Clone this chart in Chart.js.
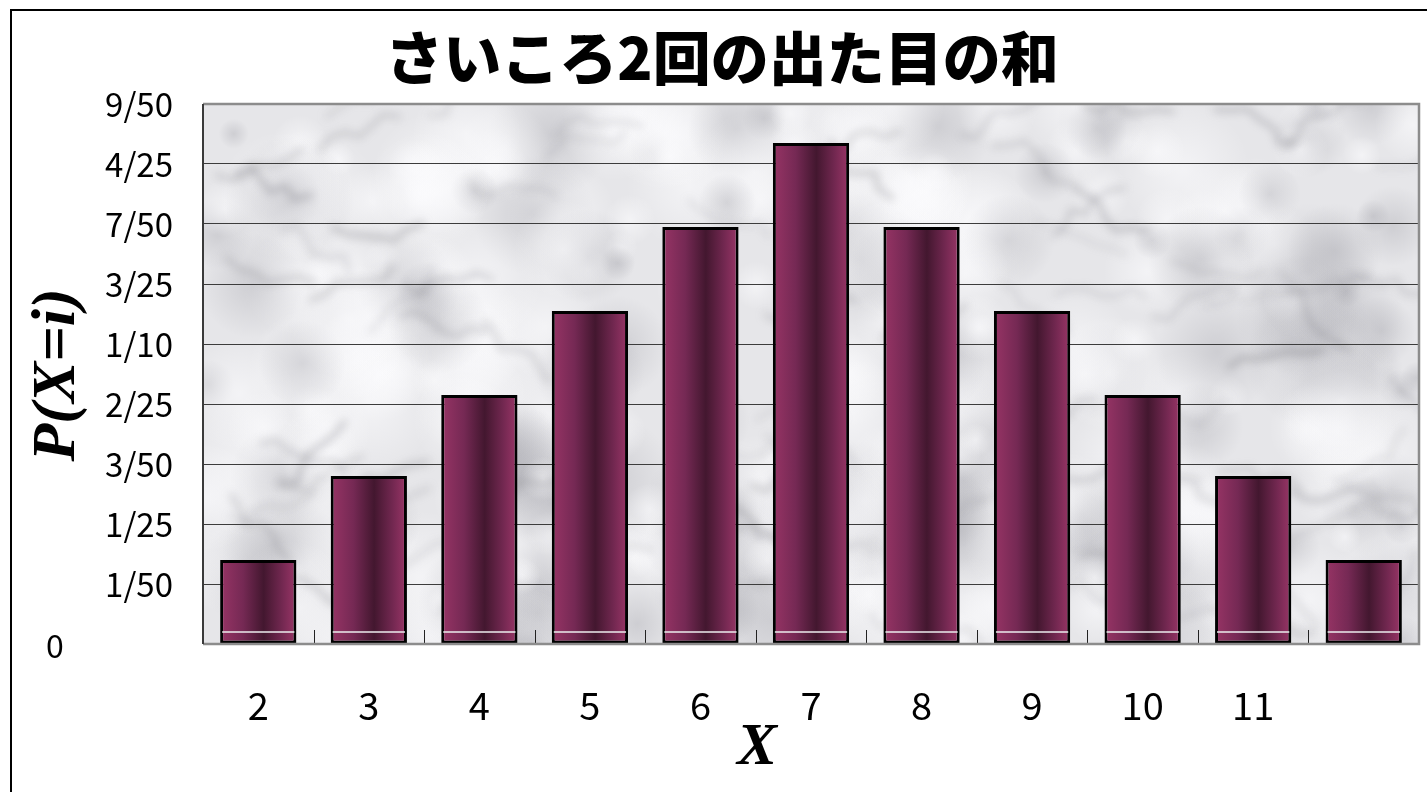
<!DOCTYPE html>
<html>
<head>
<meta charset="utf-8">
<script src="https://cdn.jsdelivr.net/npm/chart.js@4.4.1/dist/chart.umd.min.js"></script>
<style>
  html, body { margin: 0; padding: 0; background: #fff; }
  #wrap { position: relative; width: 1427px; height: 792px; }
</style>
</head>
<body>
<div id="wrap"><canvas id="diceChart" width="1427" height="792"></canvas></div>
<script>
// sum of two dice, probabilities
const sums = ['2', '3', '4', '5', '6', '7', '8', '9', '10', '11', '12'];
const xTickLabels = ['2', '3', '4', '5', '6', '7', '8', '9', '10', '11', ''];
const probs = [0.028, 0.056, 0.083, 0.111, 0.139, 0.167, 0.139, 0.111, 0.083, 0.056, 0.028];
const yTickLabels = ['0', '1/50', '1/25', '3/50', '2/25', '1/10', '3/25', '7/50', '4/25', '9/50'];

const TITLE = 'さいころ2回の出た目の和';
const JP = '"Noto Sans CJK JP", "Noto Sans", sans-serif';
const SERIF = '"Liberation Serif", "DejaVu Serif", serif';

function hash(n) {
  const s = Math.sin(n * 12.9898 + 78.233) * 43758.5453;
  return s - Math.floor(s);
}

// marble-ish texture for the plot area
let marble = null;
function makeMarble(w, h) {
  const c = document.createElement('canvas');
  c.width = w; c.height = h;
  const g = c.getContext('2d');
  g.fillStyle = '#e6e6e9';
  g.fillRect(0, 0, w, h);
  for (let i = 0; i < 320; i++) {
    const x = hash(i) * w, y = hash(i + 500) * h, r = 15 + hash(i + 900) * 55;
    const light = hash(i + 1300) > 0.4;
    const rg = g.createRadialGradient(x, y, 0, x, y, r);
    rg.addColorStop(0, light ? 'rgba(252,252,254,0.6)' : 'rgba(150,150,158,0.3)');
    rg.addColorStop(1, light ? 'rgba(252,252,254,0)' : 'rgba(150,150,158,0)');
    g.fillStyle = rg;
    g.fillRect(x - r, y - r, 2 * r, 2 * r);
  }
  g.filter = 'blur(4px)';
  g.lineCap = 'round';
  for (let i = 0; i < 90; i++) {
    let x = hash(i + 2000) * w, y = hash(i + 2100) * h;
    const ang = -0.7 + hash(i + 2200) * 1.4;
    g.strokeStyle = 'rgba(125,125,132,' + (0.18 + hash(i + 2300) * 0.22).toFixed(2) + ')';
    g.lineWidth = 2 + hash(i + 2400) * 4;
    g.beginPath();
    g.moveTo(x, y);
    for (let k = 0; k < 6; k++) {
      const a = ang + (hash(i * 13 + k) - 0.5) * 1.6;
      x += Math.cos(a) * 16; y += Math.sin(a) * 16;
      g.lineTo(x, y);
    }
    g.stroke();
  }
  g.filter = 'none';
  return c;
}

const decorPlugin = {
  id: 'decor',
  beforeDraw(chart) {
    const { ctx, chartArea: a } = chart;
    ctx.save();
    // outer frame
    ctx.strokeStyle = '#000';
    ctx.lineWidth = 2;
    ctx.beginPath();
    ctx.moveTo(11, 792); ctx.lineTo(11, 10); ctx.lineTo(1427, 10);
    ctx.stroke();
    // plot background
    if (!marble) marble = makeMarble(Math.round(a.right - a.left), Math.round(a.bottom - a.top));
    ctx.drawImage(marble, a.left, a.top, a.right - a.left, a.bottom - a.top);
    ctx.restore();
  },
  afterDatasetsDraw(chart) {
    const { ctx, chartArea: a, scales } = chart;
    const meta = chart.getDatasetMeta(0);
    const base = scales.y.getPixelForValue(0);
    ctx.save();
    // thin light stripe near the base of each bar
    ctx.strokeStyle = '#ececee';
    ctx.lineWidth = 1.5;
    meta.data.forEach(bar => {
      ctx.beginPath();
      ctx.moveTo(bar.x - bar.width / 2 + 2, base - 12);
      ctx.lineTo(bar.x + bar.width / 2 - 2, base - 12);
      ctx.stroke();
    });
    // inward tick marks between categories
    const step = scales.x.getPixelForValue(1) - scales.x.getPixelForValue(0);
    ctx.strokeStyle = '#222';
    ctx.lineWidth = 1;
    for (let i = 1; i <= sums.length; i++) {
      const x = Math.round(scales.x.getPixelForValue(i) - step / 2) + 0.5;
      ctx.beginPath();
      ctx.moveTo(x, base); ctx.lineTo(x, base - 14);
      ctx.stroke();
    }
    // plot border
    ctx.lineWidth = 2.5;
    ctx.strokeStyle = '#8c8c8c';
    ctx.beginPath();
    ctx.moveTo(a.left, a.top); ctx.lineTo(a.right, a.top); ctx.lineTo(a.right, a.bottom); ctx.lineTo(a.left, a.bottom);
    ctx.stroke();
    ctx.strokeStyle = '#3a3a3a';
    ctx.lineWidth = 2;
    ctx.beginPath();
    ctx.moveTo(a.left, a.top); ctx.lineTo(a.left, a.bottom);
    ctx.stroke();
    ctx.restore();
  },
  afterDraw(chart) {
    const { ctx, scales } = chart;
    ctx.save();
    ctx.fillStyle = '#000';
    ctx.textAlign = 'center';
    ctx.textBaseline = 'middle';
    // title
    ctx.font = '900 58px ' + JP;
    ctx.fillText(TITLE, 722, 58);
    // zero label sits apart from the others
    ctx.font = '32px ' + JP;
    ctx.fillText(yTickLabels[0], 55, scales.y.getPixelForValue(0) + 2);
    // axis titles
    ctx.font = 'italic bold 60px ' + SERIF;
    ctx.fillText('X', 757, 748);
    ctx.translate(58, 375);
    ctx.rotate(-Math.PI / 2);
    ctx.font = 'italic bold 62px ' + SERIF;
    ctx.fillText('P(X=i)', 0, 0);
    ctx.restore();
  },
};

function barGradient(context) {
  const chart = context.chart;
  const xs = chart.scales.x;
  if (!xs || !chart.chartArea) return '#7a2850';
  const step = xs.getPixelForValue(1) - xs.getPixelForValue(0);
  const w = step * 0.69;
  const cx = xs.getPixelForValue(context.dataIndex);
  const g = chart.ctx.createLinearGradient(cx - w / 2, 0, cx + w / 2, 0);
  g.addColorStop(0, '#973465');
  g.addColorStop(0.3, '#752954');
  g.addColorStop(0.57, '#43172f');
  g.addColorStop(0.8, '#70274f');
  g.addColorStop(1, '#9a3567');
  return g;
}

new Chart(document.getElementById('diceChart'), {
  type: 'bar',
  data: {
    labels: sums,
    datasets: [{
      data: probs,
      backgroundColor: barGradient,
      borderColor: '#000',
      borderWidth: 3,
      borderSkipped: false,
      categoryPercentage: 1,
      barPercentage: 0.69,
    }],
  },
  options: {
    responsive: false,
    animation: false,
    layout: { padding: { top: 104, right: 8, left: 0, bottom: 0 } },
    plugins: { legend: { display: false }, tooltip: { enabled: false }, title: { display: false } },
    scales: {
      x: {
        offset: true,
        grid: { display: false, drawTicks: false },
        border: { display: false },
        ticks: {
          color: '#000',
          padding: 39,
          maxRotation: 0,
          autoSkip: false,
          font: { family: JP, size: 38 },
          callback: (v, i) => xTickLabels[i],
        },
        afterFit: s => { s.height = 148; },
      },
      y: {
        min: 0,
        max: 0.18,
        grid: { color: '#3c3c3c', lineWidth: 1, drawTicks: false },
        border: { display: false },
        ticks: {
          stepSize: 0.02,
          color: '#000',
          padding: 30,
          font: { family: JP, size: 33 },
          callback: (v, i) => (i === 0 ? '' : yTickLabels[i]),
        },
        afterFit: s => { s.width = 203; },
      },
    },
  },
  plugins: [decorPlugin],
});
</script>
</body>
</html>
